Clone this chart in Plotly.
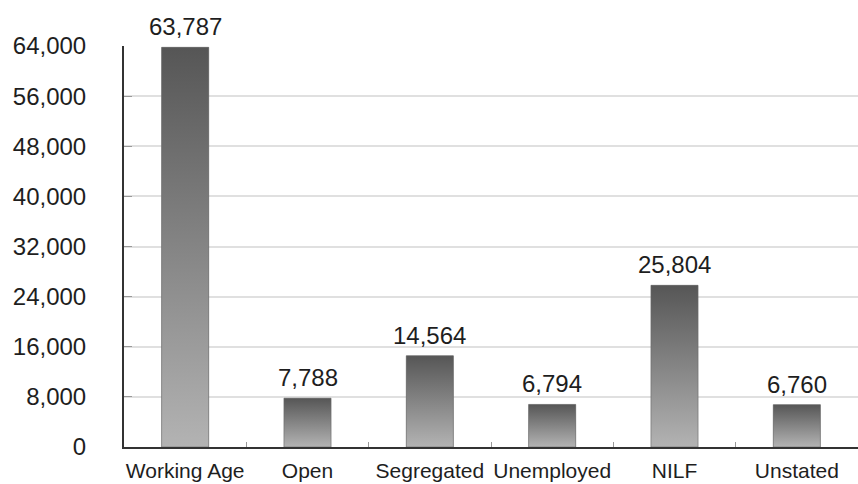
import plotly.graph_objects as go

# Population counts by labour-force status
categories = ["Working Age", "Open", "Segregated", "Unemployed", "NILF", "Unstated"]
counts = [63787, 7788, 14564, 6794, 25804, 6760]
y_ticks = [0, 8000, 16000, 24000, 32000, 40000, 48000, 56000, 64000]

BAR_W = 0.385
TOP_GREY = "#565656"
BOTTOM_GREY = "#b3b3b3"
FONT = "Liberation Sans, Arial, sans-serif"

fig = go.Figure()

# plain bars carry the values
fig.add_trace(go.Bar(
    x=list(range(len(categories))), y=counts, width=BAR_W,
    marker=dict(color="#888888", line=dict(width=0)),
    hovertext=categories, hoverinfo="text+y", showlegend=False,
))

# vertical grey gradient laid over each bar
for i, v in enumerate(counts):
    x0, x1 = i - BAR_W / 2, i + BAR_W / 2
    fig.add_trace(go.Scatter(
        x=[x0, x0, x1, x1, x0], y=[0, v, v, 0, 0],
        mode="lines", line=dict(width=0.6, color="#6a6a6a"),
        fill="toself",
        fillgradient=dict(type="vertical",
                          colorscale=[[0, BOTTOM_GREY], [1, TOP_GREY]],
                          start=0, stop=v),
        hoverinfo="skip", showlegend=False,
    ))

# value labels above the bars
for i, v in enumerate(counts):
    fig.add_annotation(
        x=i, y=v, text=f"{v:,}", showarrow=False,
        yanchor="bottom", yshift=5,
        font=dict(family=FONT, size=24, color="#1e1e1e"),
    )

fig.update_layout(
    width=858, height=484,
    margin=dict(l=124, r=0, t=46, b=37),
    paper_bgcolor="white", plot_bgcolor="white",
    bargap=0.6,
    xaxis=dict(
        range=[-0.5, len(categories) - 0.5],
        tickmode="array", tickvals=list(range(len(categories))), ticktext=categories,
        ticks="", showgrid=False, zeroline=False,
        showline=True, linecolor="#333333", linewidth=2,
        ticklabelstandoff=4,
        tickfont=dict(family=FONT, size=21, color="#1e1e1e"),
        minor=dict(tickvals=[i + 0.5 for i in range(len(categories) - 1)],
                   ticks="inside", ticklen=5, tickcolor="#999999", showgrid=False),
    ),
    yaxis=dict(
        range=[0, 64000],
        tickmode="array", tickvals=y_ticks, tickformat=",",
        ticks="inside", ticklen=8, tickcolor="#999999",
        showgrid=True, gridcolor="#e0e0e0", gridwidth=1.5,
        zeroline=False,
        showline=True, linecolor="#333333", linewidth=2,
        ticklabelstandoff=31,
        tickfont=dict(family=FONT, size=24, color="#1e1e1e"),
    ),
)

fig.write_html("out.html")
